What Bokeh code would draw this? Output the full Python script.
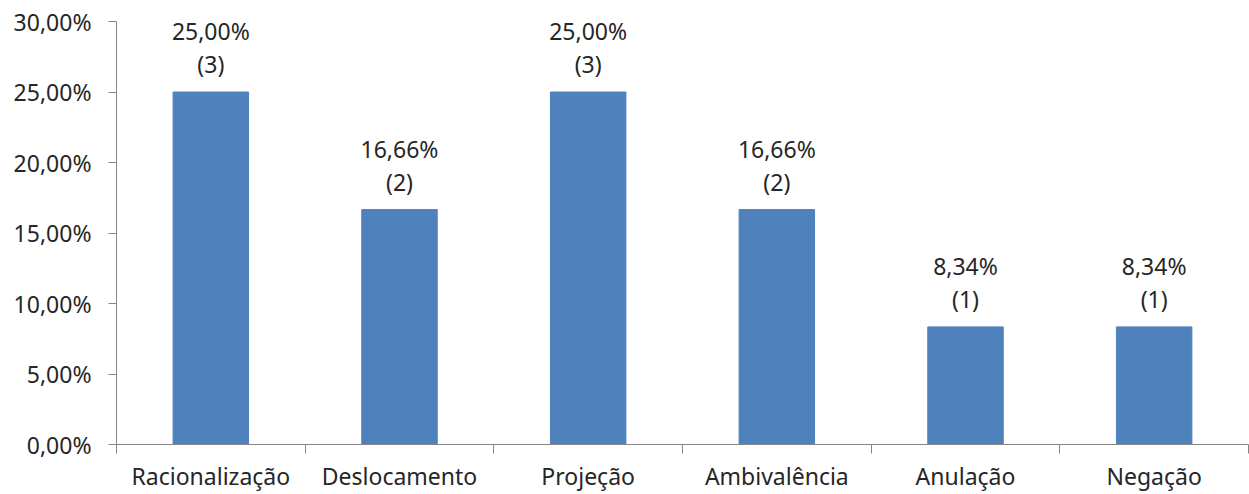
from bokeh.plotting import figure
from bokeh.models import ColumnDataSource, Range1d, FixedTicker
from bokeh.core.properties import value
from bokeh.embed import file_html
from bokeh.resources import INLINE

# Defence mechanisms and their share of occurrences
categories = ["Racionalização", "Deslocamento", "Projeção", "Ambivalência", "Anulação", "Negação"]
percentages = [25.00, 16.66, 25.00, 16.66, 8.34, 8.34]
counts = [3, 2, 3, 2, 1, 1]
y_ticks = [0, 5, 10, 15, 20, 25, 30]

FONT = "Noto Sans"
FONT_SIZE = "23px"
TEXT = "#262626"
AXIS = "#868686"
BAR = "#4F81BD"

positions = [i + 0.5 for i in range(len(categories))]
source = ColumnDataSource(dict(
    x=positions,
    pct=percentages,
    pct_label=[f"{v:.2f}%".replace(".", ",") for v in percentages],
    count_label=[f"({c})" for c in counts],
))

p = figure(width=1249, height=494, output_backend="svg", toolbar_location=None,
           x_range=Range1d(0, len(categories)), y_range=Range1d(0, 30),
           min_border_left=116, min_border_right=1, min_border_top=21, min_border_bottom=50)
p.outline_line_color = None
p.xgrid.visible = False
p.ygrid.visible = False

p.vbar(x="x", top="pct", width=0.40, source=source, fill_color=BAR, line_color=BAR)

p.text(x="x", y="pct", text="pct_label", source=source, y_offset=-61,
       text_align="center", text_baseline="middle", text_font=value(FONT),
       text_font_size=FONT_SIZE, text_color=TEXT)
p.text(x="x", y="pct", text="count_label", source=source, y_offset=-28,
       text_align="center", text_baseline="middle", text_font=value(FONT),
       text_font_size=FONT_SIZE, text_color=TEXT)

# x axis: names at centres, tick marks on category boundaries
xa = p.xaxis[0]
xa.ticker = FixedTicker(ticks=positions, minor_ticks=list(range(len(categories) + 1)))
xa.major_label_overrides = {pos: name for pos, name in zip(positions, categories)}
xa.major_tick_line_color = None
xa.major_tick_out = 0
xa.major_tick_in = 0
xa.minor_tick_line_color = AXIS
xa.minor_tick_out = 9
xa.minor_tick_in = 0
xa.axis_line_color = AXIS
xa.major_label_standoff = 6
xa.major_label_text_font = FONT
xa.major_label_text_font_size = FONT_SIZE
xa.major_label_text_color = TEXT

ya = p.yaxis[0]
ya.ticker = FixedTicker(ticks=y_ticks)
ya.major_label_overrides = {t: f"{t:.2f}%".replace(".", ",") for t in y_ticks}
ya.major_tick_line_color = AXIS
ya.major_tick_out = 8
ya.major_tick_in = 0
ya.minor_tick_line_color = None
ya.axis_line_color = AXIS
ya.major_label_standoff = 17
ya.major_label_text_font = FONT
ya.major_label_text_font_size = FONT_SIZE
ya.major_label_text_color = TEXT

open("out.html", "w").write(file_html(p, INLINE))
